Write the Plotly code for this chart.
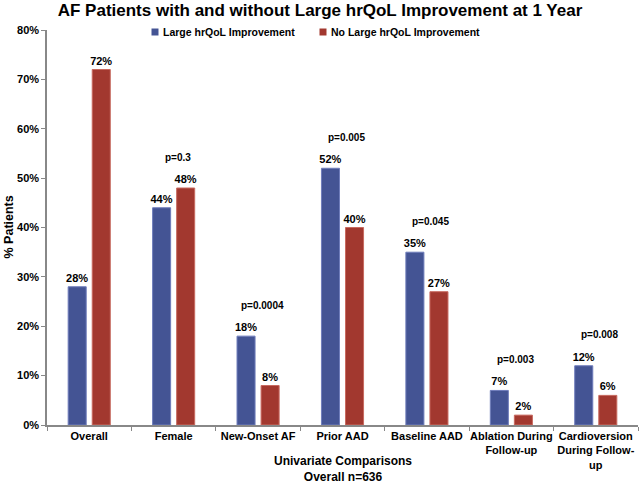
import plotly.graph_objects as go

categories = ["Overall", "Female", "New-Onset AF", "Prior AAD", "Baseline AAD",
              "Ablation During<br>Follow-up", "Cardioversion<br>During Follow-<br>up"]
large_improvement = [28, 44, 18, 52, 35, 7, 12]
no_large_improvement = [72, 48, 8, 40, 27, 2, 6]
p_values = ["", "p=0.3", "p=0.0004", "p=0.005", "p=0.045", "p=0.003", "p=0.008"]
series_names = ["Large hrQoL Improvement", "No Large hrQoL Improvement"]

FONT = "Liberation Sans, Arial, sans-serif"
BLUE = "#445494"
RED = "#a2382f"

# plot area in pixels (for converting legend placement to paper coords)
W, H = 640, 484
ML, MR, MT, MB = 47, 2, 30, 59
PW, PH = W - ML - MR, H - MT - MB


def px_x(px):
    return (px - ML) / PW


def px_y(py):
    return (H - MB - py) / PH


fig = go.Figure()
for vals, name, col, edge in [(large_improvement, series_names[0], BLUE, "#6f7dbb"),
                              (no_large_improvement, series_names[1], RED, "#c86a60")]:
    fig.add_trace(go.Bar(
        x=categories, y=vals, name=name, showlegend=False,
        marker=dict(color=col, line=dict(color=edge, width=1)),
        text=[f"<b>{v}%</b>" for v in vals], textposition="outside",
        constraintext="none",
        textfont=dict(family=FONT, size=11, color="black"), cliponaxis=False,
    ))

for cat, a, b, p in zip(categories, large_improvement, no_large_improvement, p_values):
    if p:
        fig.add_annotation(x=cat, y=max(a, b), text=f"<b>{p}</b>", showarrow=False,
                           yanchor="middle", yshift=31, xshift=4,
                           font=dict(family=FONT, size=10, color="black"))

# legend (square swatch + bold text)
for name, col, sq_cx, txt_x in [(series_names[0], BLUE, 155, 161),
                                 (series_names[1], RED, 323, 329)]:
    fig.add_shape(type="rect", xref="paper", yref="paper",
                  x0=px_x(sq_cx - 3.5), x1=px_x(sq_cx + 3.5),
                  y0=px_y(32 + 3.5), y1=px_y(32 - 3.5),
                  fillcolor=col, line=dict(width=0))
    fig.add_annotation(xref="paper", yref="paper", x=px_x(txt_x), y=px_y(32),
                       xanchor="left", yanchor="middle", showarrow=False,
                       text=f"<b>{name}</b>",
                       font=dict(family=FONT, size=10.5, color="black"))

fig.add_annotation(xref="paper", yref="paper", x=0.5, y=0, yshift=-44, yanchor="middle",
                   text="<b>Univariate Comparisons<br>Overall n=636</b>", showarrow=False,
                   font=dict(family=FONT, size=12, color="black"))
fig.add_annotation(xref="paper", yref="paper", x=0, y=0.5, xshift=-39, xanchor="center",
                   yanchor="middle", textangle=-90, text="<b>% Patients</b>", showarrow=False,
                   font=dict(family=FONT, size=12.5, color="black"))

fig.update_layout(
    width=W, height=H,
    margin=dict(l=ML, r=MR, t=MT, b=MB),
    paper_bgcolor="white", plot_bgcolor="white",
    font=dict(family=FONT, size=11, color="black"),
    title=dict(text="<b>AF Patients with and without Large hrQoL Improvement at 1 Year</b>",
               x=0.5, xanchor="center", y=1 - 10 / H, yanchor="middle",
               font=dict(family=FONT, size=17, color="black")),
    barmode="group", bargap=0.43, bargroupgap=0.25,
    showlegend=False,
)
fig.update_xaxes(
    showline=True, linecolor="#888888", linewidth=1.5, tickangle=0,
    ticks="outside", tickson="boundaries", ticklen=4, tickcolor="#888888",
    tickfont=dict(family=FONT, size=11, color="black"), showgrid=False,
    tickprefix="<b>", ticksuffix="</b>",
)
fig.update_yaxes(
    range=[0, 80], dtick=10, ticksuffix="%", tickprefix="<b>",
    showline=True, linecolor="#888888", linewidth=1.5,
    ticks="outside", ticklen=4, tickcolor="#888888", showgrid=False, zeroline=False,
    tickfont=dict(family=FONT, size=11, color="black"),
)
fig.write_html("out.html", config={"displayModeBar": False},
               post_script="document.body.style.margin='0';")
